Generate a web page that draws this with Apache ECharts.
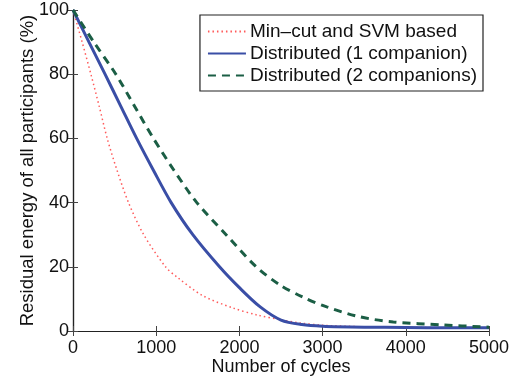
<!DOCTYPE html>
<html>
<head>
<meta charset="utf-8">
<script src="https://cdn.jsdelivr.net/npm/echarts@6/dist/echarts.min.js"></script>
<style>
  html, body { margin: 0; padding: 0; background: #fff; }
  #chart { width: 523px; height: 381px; }
</style>
</head>
<body>
<div id="chart"></div>
<script>
// values
const seriesNames = ['Min\u2013cut and SVM based', 'Distributed (1 companion)', 'Distributed (2 companions)'];

const minCutCycles = [0, 110, 215, 315, 411, 530, 667, 850, 1112, 1250, 1560, 1920, 2210, 2500, 2730, 3000, 3500, 4000, 5000];
const minCutEnergy = [100, 90, 80, 70, 60, 50, 40, 30, 20, 16.8, 11, 7.2, 5, 3.5, 2.5, 1.8, 1.3, 1.1, 1];

const dist1Cycles = [0, 192, 385, 575, 765, 968, 1180, 1440, 1761, 2000, 2250, 2500, 2750, 3000, 3500, 4000, 4500, 5000];
const dist1Energy = [100, 90, 80, 70, 60, 50, 40, 30, 20, 13.5, 7.5, 3.4, 2, 1.5, 1.2, 1.1, 1, 1];

const dist2Cycles = [0, 250, 515, 740, 967, 1215, 1488, 1840, 2202, 2490, 2760, 3050, 3450, 3850, 4450, 4900, 5000];
const dist2Energy = [100, 90, 80, 70, 60, 50, 40, 30, 20, 14.3, 10.6, 7.5, 4.4, 2.8, 1.9, 1.3, 1.2];

const xTicks = { min: 0, max: 5000, interval: 1000 };
const yTicks = { min: 0, max: 100, interval: 20 };

function pairs(xs, ys) {
  return xs.map((x, i) => [x, ys[i]]);
}

const font = 'Liberation Sans, Arial, Helvetica, sans-serif';
const axisLine = { show: true, lineStyle: { color: '#222', width: 1.2 } };
const tick = { show: true, inside: true, length: 5, lineStyle: { color: '#444' } };

const chart = echarts.init(document.getElementById('chart'));
chart.setOption({
  animation: false,
  grid: { left: 73, right: 34, top: 10, bottom: 50, outerBoundsMode: 'none' },
  legend: {
    orient: 'vertical',
    right: 40,
    top: 15,
    backgroundColor: '#fff',
    borderColor: '#222',
    borderWidth: 1.2,
    borderRadius: 0,
    padding: [7, 6, 6, 7],
    itemWidth: 38,
    itemHeight: 12,
    itemGap: 3,
    itemStyle: { opacity: 0 },
    textStyle: { fontFamily: font, fontSize: 19, color: '#111', padding: [0, 0, 0, -1] },
    data: seriesNames
  },
  xAxis: [
    {
      type: 'value', position: 'bottom', ...xTicks,
      name: 'Number of cycles', nameLocation: 'middle', nameGap: 27, nameMoveOverlap: false,
      nameTextStyle: { fontFamily: font, fontSize: 18, color: '#111' },
      axisLine, axisTick: tick,
      axisLabel: { fontFamily: font, fontSize: 18, color: '#111', margin: 8, formatter: v => String(v) },
      splitLine: { show: false }
    },
    {
      type: 'value', position: 'top', ...xTicks,
      axisLine, axisTick: tick, axisLabel: { show: false }, splitLine: { show: false }
    }
  ],
  yAxis: [
    {
      type: 'value', position: 'left', ...yTicks,
      name: 'Residual energy of all participants (%)', nameLocation: 'middle', nameGap: 36, nameMoveOverlap: false,
      nameTextStyle: { fontFamily: font, fontSize: 18.5, color: '#111' },
      axisLine, axisTick: tick,
      axisLabel: { fontFamily: font, fontSize: 18, color: '#111', margin: 4 },
      splitLine: { show: false }
    },
    {
      type: 'value', position: 'right', ...yTicks,
      axisLine, axisTick: tick, axisLabel: { show: false }, splitLine: { show: false }
    }
  ],
  series: [
    {
      name: seriesNames[0], type: 'line', symbol: 'none', smooth: 0.3,
      data: pairs(minCutCycles, minCutEnergy),
      lineStyle: { color: '#ff5a5a', width: 1.5, type: [1.5, 3] },
      itemStyle: { color: '#ff5a5a' }
    },
    {
      name: seriesNames[1], type: 'line', symbol: 'none', smooth: 0.3,
      data: pairs(dist1Cycles, dist1Energy),
      lineStyle: { color: '#3a4ea6', width: 3, type: 'solid' },
      itemStyle: { color: '#3a4ea6' }
    },
    {
      name: seriesNames[2], type: 'line', symbol: 'none', smooth: 0.3,
      data: pairs(dist2Cycles, dist2Energy),
      lineStyle: { color: '#1b5e45', width: 3, type: [8, 6] },
      itemStyle: { color: '#1b5e45' }
    }
  ]
});
</script>
</body>
</html>
